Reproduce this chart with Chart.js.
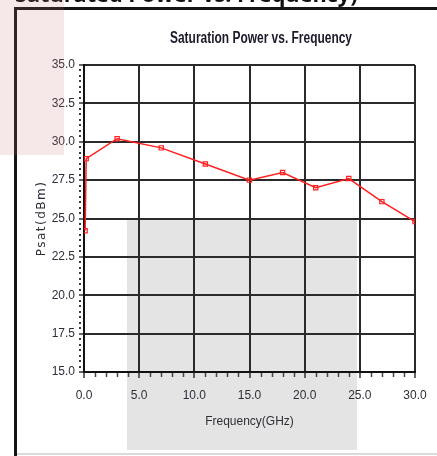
<!DOCTYPE html>
<html><head><meta charset="utf-8">
<script src="https://cdn.jsdelivr.net/npm/chart.js@4/dist/chart.umd.min.js"></script>
<style>html,body{margin:0;padding:0;background:#fff;overflow:hidden}#wrap{position:relative;width:437px;height:456px}</style>
</head><body><div id="wrap"><canvas id="c" width="437" height="456"></canvas></div>
<script>
// ---- data ----
const frequencies = [0.1, 0.2, 3, 7, 11, 15, 18, 21, 24, 27, 30];
const psatValues  = [24.2, 28.9, 30.2, 29.6, 28.55, 27.5, 28.0, 27.0, 27.6, 26.1, 24.8];
const xTickValues = [0, 5, 10, 15, 20, 25, 30];
const yTickValues = [15, 17.5, 20, 22.5, 25, 27.5, 30, 32.5, 35];
const chartTitle = 'Saturation Power vs. Frequency';
const pageCaption = 'Saturated Power vs. Frequency)';
const xTitle = 'Frequency(GHz)';
const yTitle = 'Psat(dBm)';

const SANS = '"Liberation Sans", Arial, sans-serif';
const LABEL_COLOR = '#2e2e3a';

const decor = {
  id: 'decor',
  beforeDraw(chart) {
    const ctx = chart.ctx;
    ctx.save();
    ctx.fillStyle = '#ffffff';
    ctx.fillRect(0, 0, chart.width, chart.height);
    ctx.fillStyle = '#e4e4e4';
    ctx.fillRect(127, 218, 230, 232);
    ctx.restore();
  },
  afterDraw(chart) {
    const ctx = chart.ctx;
    const xs = chart.scales.x, ys = chart.scales.y;
    const area = chart.chartArea;
    ctx.save();
    // minor ticks x
    ctx.strokeStyle = '#444';
    ctx.lineWidth = 1.5;
    for (let v = xs.min; v <= xs.max; v += 1) {
      if (v % 5 === 0) continue;
      const px = Math.round(xs.getPixelForValue(v)) + 0.5;
      ctx.beginPath();
      ctx.moveTo(px, area.bottom + 1);
      ctx.lineTo(px, area.bottom + 5);
      ctx.stroke();
    }
    // minor ticks y
    ctx.fillStyle = '#3a3a3a';
    const step = 2.5 / 7;
    for (let i = 0; i <= 56; i++) {
      if (i % 7 === 0) continue;
      const py = ys.getPixelForValue(ys.min + i * step);
      ctx.fillRect(area.left - 5, Math.round(py) - 1, 2, 2);
    }
    // chart title (condensed bold)
    ctx.save();
    ctx.fillStyle = '#1a1a2a';
    ctx.font = 'bold 16px ' + SANS;
    ctx.textAlign = 'center';
    ctx.textBaseline = 'alphabetic';
    const tw = ctx.measureText(chartTitle).width;
    ctx.translate(261, 43);
    ctx.scale(182 / tw, 1);
    ctx.fillText(chartTitle, 0, 0);
    ctx.restore();
    // y title
    ctx.save();
    ctx.translate(42, (area.top + area.bottom) / 2);
    ctx.rotate(-Math.PI / 2);
    ctx.font = '12px "DejaVu Sans", sans-serif';
    ctx.letterSpacing = '1.5px';
    ctx.fillStyle = LABEL_COLOR;
    ctx.textAlign = 'center';
    ctx.textBaseline = 'middle';
    ctx.fillText(yTitle, 0, 0);
    ctx.restore();
    // cropped page caption at top
    ctx.fillStyle = '#111';
    ctx.textAlign = 'left';
    ctx.textBaseline = 'alphabetic';
    ctx.font = 'bold 26px "Open Sans", sans-serif';
    const w = ctx.measureText(pageCaption).width;
    const size = 26 * 342 / w;
    ctx.font = 'bold ' + size.toFixed(1) + 'px "Open Sans", sans-serif';
    ctx.fillText(pageCaption, 15, 2);
    // frame lines
    ctx.fillStyle = '#141414';
    ctx.fillRect(14, 7, 437 - 14, 3);
    ctx.fillRect(14, 7, 3, 456 - 7);
    ctx.fillStyle = '#dadada';
    ctx.fillRect(17, 453, 437 - 17, 2);
    // pink overlay
    ctx.fillStyle = 'rgba(200,120,120,0.17)';
    ctx.fillRect(0, 0, 64, 155);
    ctx.restore();
  }
};

new Chart(document.getElementById('c'), {
  type: 'line',
  data: {
    datasets: [{
      data: frequencies.map((f, i) => ({x: f, y: psatValues[i]})),
      borderColor: '#ff1f1f',
      borderWidth: 1.5,
      pointStyle: 'rect',
      pointRadius: 3,
      pointBorderWidth: 1.2,
      pointBorderColor: '#ff1f1f',
      pointBackgroundColor: 'rgba(255,255,255,0)',
      tension: 0,
      clip: 0
    }]
  },
  options: {
    responsive: false,
    animation: false,
    devicePixelRatio: 1,
    layout: {padding: {left: 0, top: 65, right: 22, bottom: 0}},
    plugins: {legend: {display: false}, tooltip: {enabled: false}, title: {display: false}},
    scales: {
      x: {
        type: 'linear', min: 0, max: 30,
        afterBuildTicks: s => { s.ticks = xTickValues.map(v => ({value: v})); },
        afterFit: s => { s.height = 84; },
        ticks: {callback: v => Number(v).toFixed(1), font: {family: SANS, size: 12}, color: LABEL_COLOR, padding: 10, maxRotation: 0, autoSkip: false},
        grid: {color: '#2a2a2a', lineWidth: 2, tickLength: 6, tickColor: '#333', tickWidth: 1.5},
        border: {display: true, color: '#111', width: 2},
        title: {display: true, text: xTitle, font: {family: SANS, size: 12}, color: LABEL_COLOR, padding: {top: 0, bottom: 27}}
      },
      y: {
        type: 'linear', min: 15, max: 35,
        afterBuildTicks: s => { s.ticks = yTickValues.map(v => ({value: v})); },
        afterFit: s => { s.width = 84; },
        ticks: {callback: v => Number(v).toFixed(1), font: {family: SANS, size: 12}, color: LABEL_COLOR, padding: 4, autoSkip: false},
        grid: {color: '#2a2a2a', lineWidth: 2, tickLength: 5, tickColor: '#333', tickWidth: 1.5},
        border: {display: true, color: '#111', width: 2},
        title: {display: false}
      }
    }
  },
  plugins: [decor]
});
</script></body></html>
